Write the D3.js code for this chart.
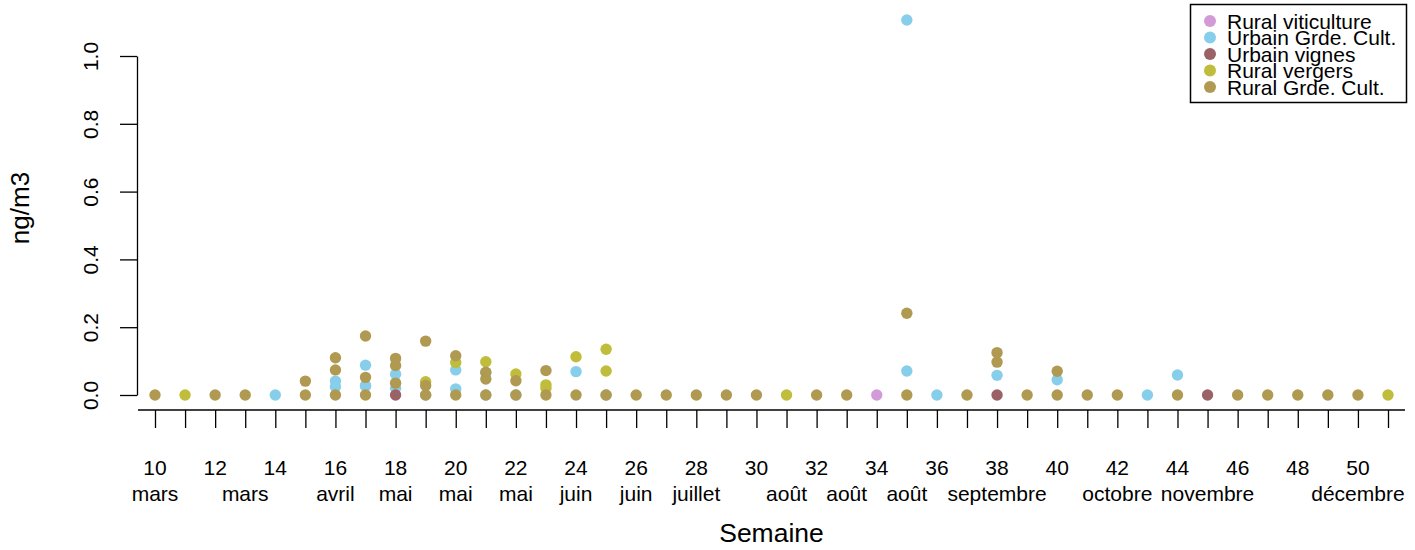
<!DOCTYPE html>
<html><head><meta charset="utf-8">
<script src="https://cdn.jsdelivr.net/npm/d3@7"></script>
<style>body{margin:0;background:#fff}svg{display:block}text{font-family:"Liberation Sans",Arial,Helvetica,sans-serif;fill:#000}</style>
</head><body><div id="chart"></div>
<script>
const seriesNames = ["Rural viticulture","Urbain Grde. Cult.","Urbain vignes","Rural vergers","Rural Grde. Cult."];
const seriesColors = ["#D39AD8","#87CEEB","#9A6266","#BFBD3B","#B09A52"];

const weeksViti = [17, 34];
const valsViti  = [0.027, 0];

const weeksUGC = [14,16,16,17,17,18,18,19,20,20,21,21,22,24,25,35,35,36,38,40,43,44];
const valsUGC  = [0,0.024,0.041,0.027,0.088,0.020,0.061,0,0.018,0.074,0,0.066,0,0.069,0,0.071,1.106,0,0.058,0.045,0,0.059];

const weeksUV = [18, 38, 45];
const valsUV  = [0, 0, 0];

const weeksRV = [11,19,20,21,22,23,23,24,25,25,31,51];
const valsRV  = [0,0.039,0.096,0.098,0.062,0.020,0.030,0.113,0.071,0.135,0,0];

const weeksRGC = [10,12,13,15,15,16,16,16,17,17,17,18,18,18,19,19,19,20,20,21,21,21,22,22,23,23,24,25,26,27,28,29,30,32,33,35,35,37,38,38,39,40,40,41,42,44,46,47,48,49,50];
const valsRGC  = [0,0,0,0,0.041,0,0.074,0.110,0,0.052,0.174,0.035,0.087,0.108,0,0.028,0.159,0,0.116,0,0.047,0.067,0,0.042,0,0.072,0,0,0,0,0,0,0,0,0,0,0.241,0,0.097,0.125,0,0,0.070,0,0,0,0,0,0,0,0];

const weekTicks = d3.range(10, 52);
const weekLabels = d3.range(10, 52, 2);
const monthWeeks = [10,13,16,18,20,22,24,26,28,31,33,35,38,42,45,50];
const monthLabels = ["mars","mars","avril","mai","mai","mai","juin","juin","juillet","août","août","août","septembre","octobre","novembre","décembre"];
const yTicks = [0, 0.2, 0.4, 0.6, 0.8, 1.0];

const W = 1415, H = 550;
const svg = d3.select("#chart").append("svg").attr("width", W).attr("height", H);

const x = d3.scaleLinear().domain([10, 51]).range([155, 1388]);
const y = d3.scaleLinear().domain([0, 1]).range([395, 56]);

// Y axis
const yAxis = d3.axisLeft(y).tickValues(yTicks).tickFormat(d3.format(".1f")).tickSize(17).tickSizeOuter(0);
const gy = svg.append("g").attr("transform", "translate(137,0)").call(yAxis);
gy.select(".domain").attr("stroke", "#000").attr("stroke-width", 1.3);
gy.selectAll(".tick line").attr("stroke", "#000").attr("stroke-width", 1.3);
gy.selectAll(".tick text").attr("font-size", 21).attr("text-anchor", "middle")
  .attr("font-family", "Liberation Sans, Arial, sans-serif")
  .attr("x", 0).attr("dy", 0)
  .attr("transform", "translate(-47,0) rotate(-90)")
  .attr("dominant-baseline", "central");

// X axis
const xAxis = d3.axisBottom(x).tickValues(weekTicks).tickFormat("").tickSize(18).tickSizeOuter(0);
const gx = svg.append("g").attr("transform", "translate(0,410)").call(xAxis);
gx.select(".domain").attr("d", `M${x(10) - 17},0H${x(51) + 17}`).attr("stroke", "#000").attr("stroke-width", 1.3);
gx.selectAll(".tick line").attr("stroke", "#000").attr("stroke-width", 1.3);

svg.append("g").selectAll("text").data(weekLabels).join("text")
  .attr("x", d => x(d)).attr("y", 475).attr("text-anchor", "middle").attr("font-size", 21)
  .text(d => d);

svg.append("g").selectAll("text").data(monthWeeks).join("text")
  .attr("x", d => x(d)).attr("y", 501).attr("text-anchor", "middle").attr("font-size", 21)
  .text((d, i) => monthLabels[i]);

// axis titles
svg.append("text").attr("x", x(30.5)).attr("y", 542).attr("text-anchor", "middle").attr("font-size", 26.5).text("Semaine");
svg.append("text").attr("transform", "translate(29,208) rotate(-90)").attr("text-anchor", "middle").attr("font-size", 26).text("ng/m3");

// points
const allSeries = [
  [weeksViti, valsViti], [weeksUGC, valsUGC], [weeksUV, valsUV], [weeksRV, valsRV], [weeksRGC, valsRGC]
];
allSeries.forEach(([wk, vl], si) => {
  svg.append("g").selectAll("circle").data(wk.map((w, i) => [w, vl[i]])).join("circle")
    .attr("cx", d => x(d[0])).attr("cy", d => y(d[1])).attr("r", 5.7)
    .attr("fill", seriesColors[si]);
});

// legend
const lg = svg.append("g");
lg.append("rect").attr("x", 1190.5).attr("y", 4.5).attr("width", 216).attr("height", 98)
  .attr("fill", "#fff").attr("stroke", "#000").attr("stroke-width", 1.5);
const rowY = d3.scaleLinear().domain([0, 4]).range([21, 87]);
seriesNames.forEach((n, i) => {
  lg.append("circle").attr("cx", 1210).attr("cy", rowY(i)).attr("r", 6).attr("fill", seriesColors[i]);
  lg.append("text").attr("x", 1227).attr("y", rowY(i)).attr("dy", "0.36em").attr("font-size", 21).text(n);
});
</script></body></html>
